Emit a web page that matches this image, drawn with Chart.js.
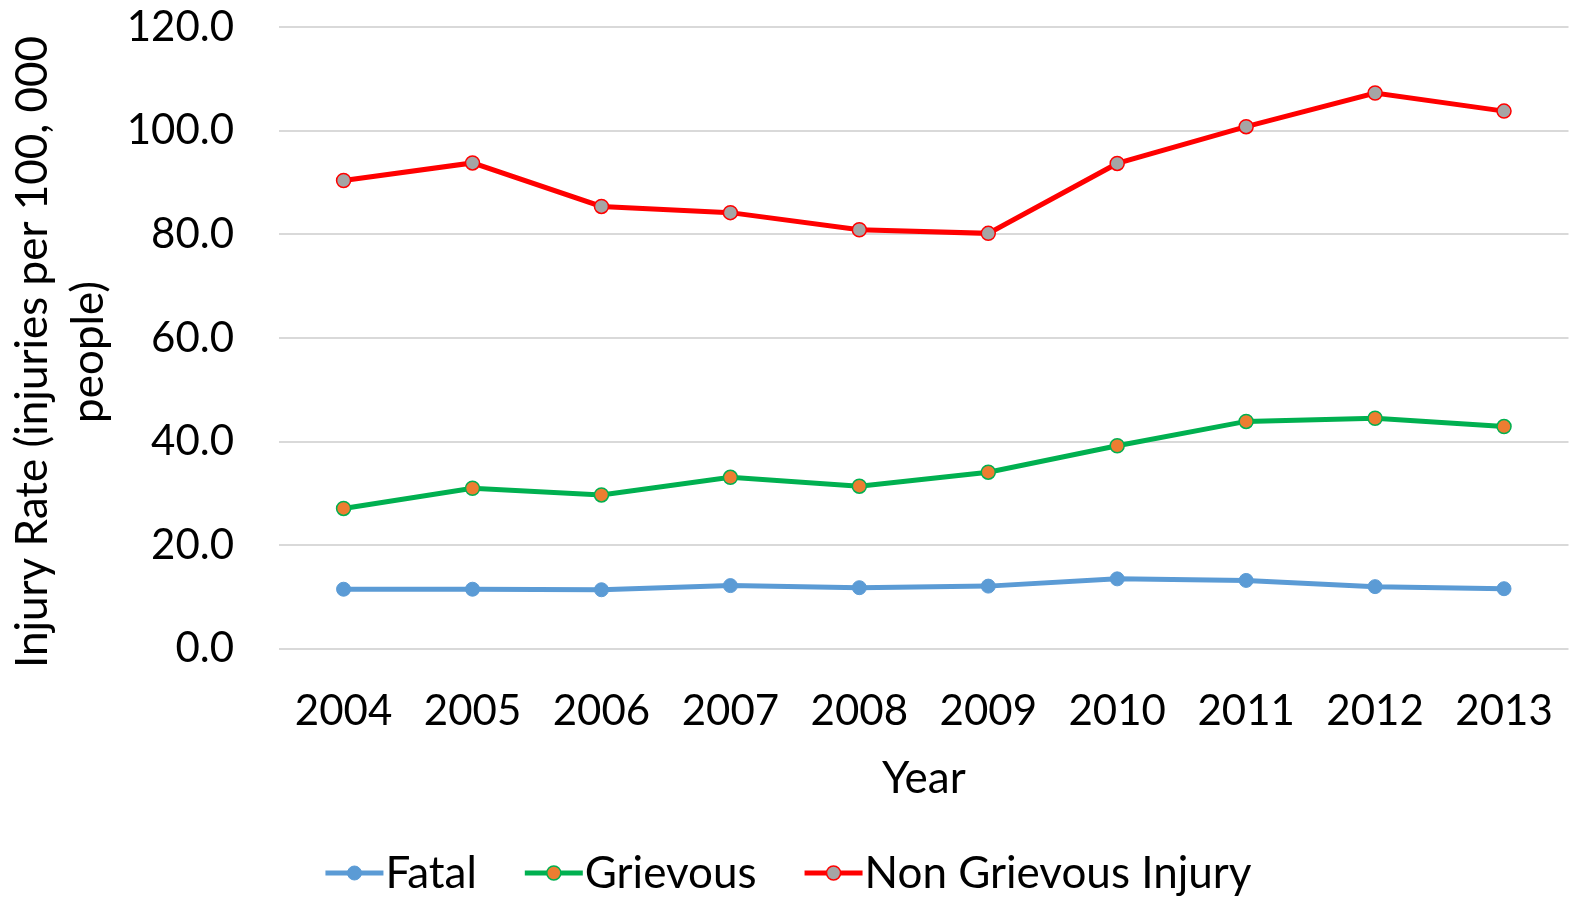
<!DOCTYPE html>
<html>
<head>
<meta charset="utf-8">
<script src="https://cdn.jsdelivr.net/npm/chart.js@4.4.1/dist/chart.umd.min.js"></script>
<style>
  html, body { margin: 0; padding: 0; background: #fff; }
  #wrap { width: 1577px; height: 897px; }
</style>
</head>
<body>
<div id="wrap"><canvas id="injuryChart" width="1577" height="897"></canvas></div>
<script>
const years = ["2004", "2005", "2006", "2007", "2008", "2009", "2010", "2011", "2012", "2013"];
const fatal = [11.5, 11.5, 11.4, 12.2, 11.8, 12.1, 13.5, 13.2, 12.0, 11.6];
const grievous = [27.1, 31.0, 29.7, 33.1, 31.4, 34.1, 39.2, 43.9, 44.5, 42.9];
const nonGrievous = [90.4, 93.8, 85.4, 84.2, 80.9, 80.2, 93.7, 100.8, 107.3, 103.8];
const seriesNames = ["Fatal", "Grievous", "Non Grievous Injury"];
const yTicks = [0, 20, 40, 60, 80, 100, 120];

const FONT = "Lato, 'Open Sans', sans-serif";

// legend drawn by hand: line + marker + label, centred under the chart
const lineLegend = {
  id: 'lineLegend',
  afterDraw(chart, args, opts) {
    const { ctx } = chart;
    const items = chart.data.datasets;
    const lineW = 58, gap = 48;
    ctx.save();
    ctx.font = `${opts.size}px ${FONT}`;
    const widths = items.map(d => lineW + 2 + ctx.measureText(d.label).width);
    const total = widths.reduce((a, b) => a + b, 0) + gap * (items.length - 1);
    let x = (chart.width - total) / 2;
    const y = opts.y;
    items.forEach((d, i) => {
      ctx.strokeStyle = d.borderColor;
      ctx.lineWidth = 5;
      ctx.beginPath();
      ctx.moveTo(x, y);
      ctx.lineTo(x + lineW, y);
      ctx.stroke();
      ctx.beginPath();
      ctx.arc(x + lineW / 2, y, d.pointRadius, 0, Math.PI * 2);
      ctx.fillStyle = d.pointBackgroundColor;
      ctx.fill();
      ctx.lineWidth = d.pointBorderWidth;
      ctx.strokeStyle = d.pointBorderColor;
      ctx.stroke();
      ctx.fillStyle = '#000';
      ctx.textBaseline = 'middle';
      ctx.fillText(d.label, x + lineW + 2, y + 1);
      x += widths[i] + gap;
    });
    ctx.restore();
  }
};

// nudge the y axis title a little lower than the plot centre
const yTitleShift = {
  id: 'yTitleShift',
  beforeDraw(chart, args, opts) {
    const scale = chart.scales.y;
    if (!scale || scale._shifted) return;
    const orig = scale.drawTitle;
    scale.drawTitle = function () {
      this.ctx.save();
      this.ctx.translate(0, opts.dy);
      orig.call(this);
      this.ctx.restore();
    };
    scale._shifted = true;
  }
};

const ctx = document.getElementById('injuryChart').getContext('2d');
new Chart(ctx, {
  type: 'line',
  data: {
    labels: years,
    datasets: [
      {
        label: seriesNames[0],
        data: fatal,
        borderColor: '#5B9BD5',
        borderWidth: 5,
        pointRadius: 7,
        pointBackgroundColor: '#5B9BD5',
        pointBorderColor: '#5B9BD5',
        pointBorderWidth: 1
      },
      {
        label: seriesNames[1],
        data: grievous,
        borderColor: '#00B050',
        borderWidth: 5,
        pointRadius: 7,
        pointBackgroundColor: '#ED7D31',
        pointBorderColor: '#00B050',
        pointBorderWidth: 1.5
      },
      {
        label: seriesNames[2],
        data: nonGrievous,
        borderColor: '#FF0000',
        borderWidth: 5,
        pointRadius: 7,
        pointBackgroundColor: '#A5A5A5',
        pointBorderColor: '#FF0000',
        pointBorderWidth: 1.5
      }
    ]
  },
  options: {
    responsive: false,
    animation: false,
    devicePixelRatio: 1,
    layout: { padding: { left: 1, right: 5, top: 0, bottom: 92 } },
    plugins: {
      legend: { display: false },
      tooltip: { enabled: false },
      lineLegend: { y: 873, size: 44 },
      yTitleShift: { dy: 14 }
    },
    scales: {
      x: {
        offset: true,
        // invisible grid, its tick length gives the gap under the plot
        grid: { display: true, color: 'rgba(0,0,0,0)', drawTicks: true, tickLength: 35, tickColor: 'rgba(0,0,0,0)' },
        border: { display: false },
        ticks: { color: '#000', font: { family: FONT, size: 42 }, padding: 2 },
        title: {
          display: true,
          text: 'Year',
          color: '#000',
          font: { family: FONT, size: 44 },
          padding: { top: 14, bottom: 0 }
        }
      },
      y: {
        min: 0,
        max: 120,
        afterBuildTicks: axis => { axis.ticks = yTicks.map(v => ({ value: v })); },
        grid: { color: '#D9D9D9', lineWidth: 2, drawTicks: true, tickLength: 43, tickColor: 'rgba(0,0,0,0)' },
        border: { display: false },
        ticks: {
          color: '#000',
          font: { family: FONT, size: 42 },
          padding: 2,
          callback: v => Number(v).toFixed(1)
        },
        title: {
          display: true,
          text: ['Injury Rate (injuries per 100, 000', 'people)'],
          color: '#000',
          font: { family: FONT, size: 44, lineHeight: 1.27 },
          padding: { top: 4, bottom: 8 }
        }
      }
    }
  },
  plugins: [lineLegend, yTitleShift]
});
</script>
</body>
</html>
